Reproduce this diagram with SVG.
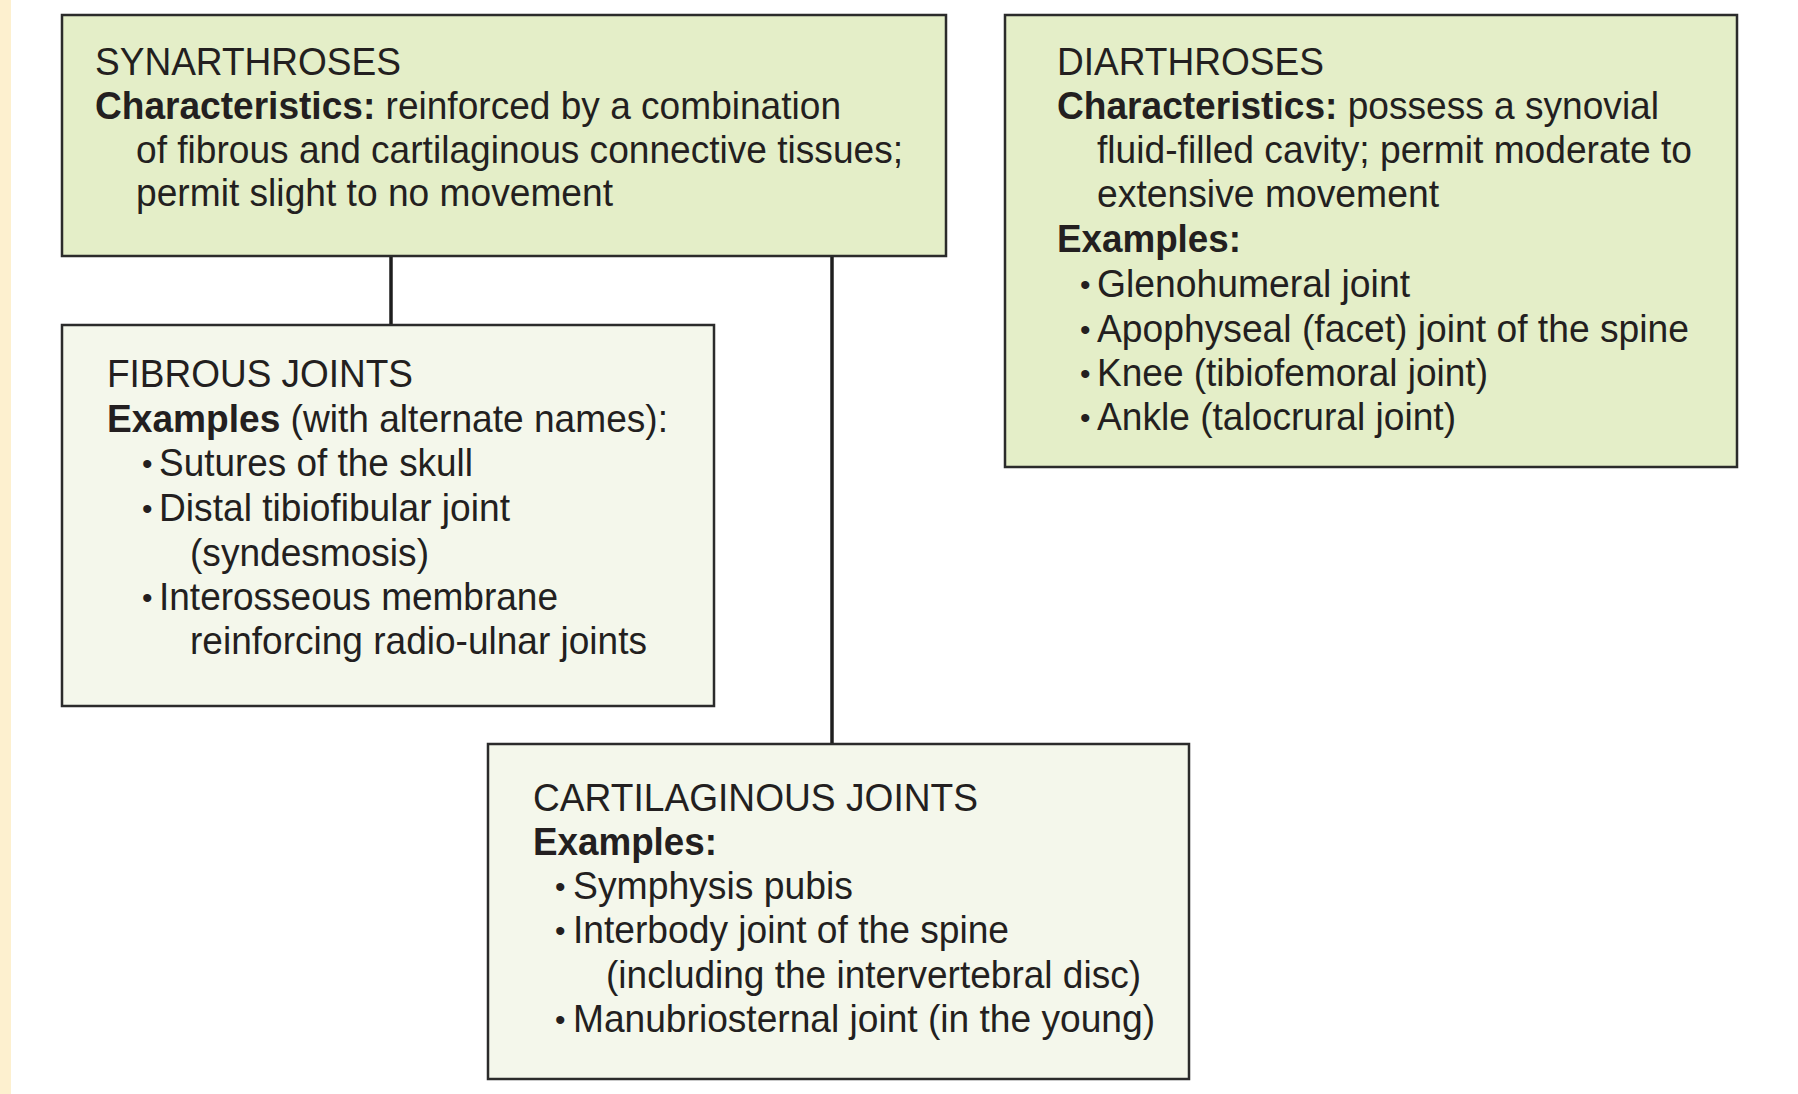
<svg xmlns="http://www.w3.org/2000/svg" width="1798" height="1094" viewBox="0 0 1798 1094">
<style>
.bg{fill:#ffffff}
.strip{fill:#fdf0cf}
.top{fill:#e4eec8;stroke:#2b2b2b;stroke-width:2.5}
.low{fill:#f4f7eb;stroke:#2b2b2b;stroke-width:2.5}
.conn{stroke:#1e1e1e;stroke-width:3.5;fill:none}
text{font-family:"Liberation Sans",Arial,Helvetica,sans-serif;font-size:39px;fill:#231f20}
.b{font-weight:bold}
.bu{font-size:30px}
</style>
<rect class="bg" x="0" y="0" width="1798" height="1094"/>
<rect class="strip" x="0" y="0" width="11" height="1094"/>
<g id="connectors">
<line class="conn" x1="391" y1="256" x2="391" y2="325"/>
<line class="conn" x1="832" y1="256" x2="832" y2="744"/>
</g>
<g id="synarthroses">
<rect class="top" x="62" y="15" width="884" height="241"/>
<text x="95" y="75" textLength="306" lengthAdjust="spacingAndGlyphs">SYNARTHROSES</text>
<text x="95" y="119" textLength="746" lengthAdjust="spacingAndGlyphs"><tspan class="b">Characteristics:</tspan> reinforced by a combination</text>
<text x="136" y="163" textLength="767" lengthAdjust="spacingAndGlyphs">of fibrous and cartilaginous connective tissues;</text>
<text x="136" y="206" textLength="477" lengthAdjust="spacingAndGlyphs">permit slight to no movement</text>
</g>
<g id="diarthroses">
<rect class="top" x="1005" y="15" width="732" height="452"/>
<text x="1057" y="75" textLength="267" lengthAdjust="spacingAndGlyphs">DIARTHROSES</text>
<text x="1057" y="119" textLength="602" lengthAdjust="spacingAndGlyphs"><tspan class="b">Characteristics:</tspan> possess a synovial</text>
<text x="1097" y="163" textLength="595" lengthAdjust="spacingAndGlyphs">fluid-filled cavity; permit moderate to</text>
<text x="1097" y="207" textLength="342" lengthAdjust="spacingAndGlyphs">extensive movement</text>
<text class="b" x="1057" y="252" textLength="184" lengthAdjust="spacingAndGlyphs">Examples:</text>
<text class="bu" x="1080" y="295">•</text>
<text x="1097" y="297" textLength="313" lengthAdjust="spacingAndGlyphs">Glenohumeral joint</text>
<text class="bu" x="1080" y="340">•</text>
<text x="1097" y="342" textLength="592" lengthAdjust="spacingAndGlyphs">Apophyseal (facet) joint of the spine</text>
<text class="bu" x="1080" y="384">•</text>
<text x="1097" y="386" textLength="391" lengthAdjust="spacingAndGlyphs">Knee (tibiofemoral joint)</text>
<text class="bu" x="1080" y="428">•</text>
<text x="1097" y="430" textLength="359" lengthAdjust="spacingAndGlyphs">Ankle (talocrural joint)</text>
</g>
<g id="fibrous">
<rect class="low" x="62" y="325" width="652" height="381"/>
<text x="107" y="387" textLength="306" lengthAdjust="spacingAndGlyphs">FIBROUS JOINTS</text>
<text x="107" y="432" textLength="561" lengthAdjust="spacingAndGlyphs"><tspan class="b">Examples</tspan> (with alternate names):</text>
<text class="bu" x="142" y="474">•</text>
<text x="159" y="476" textLength="314" lengthAdjust="spacingAndGlyphs">Sutures of the skull</text>
<text class="bu" x="142" y="519">•</text>
<text x="159" y="521" textLength="351" lengthAdjust="spacingAndGlyphs">Distal tibiofibular joint</text>
<text x="190" y="566" textLength="239" lengthAdjust="spacingAndGlyphs">(syndesmosis)</text>
<text class="bu" x="142" y="608">•</text>
<text x="159" y="610" textLength="399" lengthAdjust="spacingAndGlyphs">Interosseous membrane</text>
<text x="190" y="654" textLength="457" lengthAdjust="spacingAndGlyphs">reinforcing radio-ulnar joints</text>
</g>
<g id="cartilaginous">
<rect class="low" x="488" y="744" width="701" height="335"/>
<text x="533" y="811" textLength="445" lengthAdjust="spacingAndGlyphs">CARTILAGINOUS JOINTS</text>
<text class="b" x="533" y="855" textLength="184" lengthAdjust="spacingAndGlyphs">Examples:</text>
<text class="bu" x="555" y="897">•</text>
<text x="573" y="899" textLength="280" lengthAdjust="spacingAndGlyphs">Symphysis pubis</text>
<text class="bu" x="555" y="941">•</text>
<text x="573" y="943" textLength="436" lengthAdjust="spacingAndGlyphs">Interbody joint of the spine</text>
<text x="606" y="988" textLength="535" lengthAdjust="spacingAndGlyphs">(including the intervertebral disc)</text>
<text class="bu" x="555" y="1030">•</text>
<text x="573" y="1032" textLength="582" lengthAdjust="spacingAndGlyphs">Manubriosternal joint (in the young)</text>
</g>
</svg>
